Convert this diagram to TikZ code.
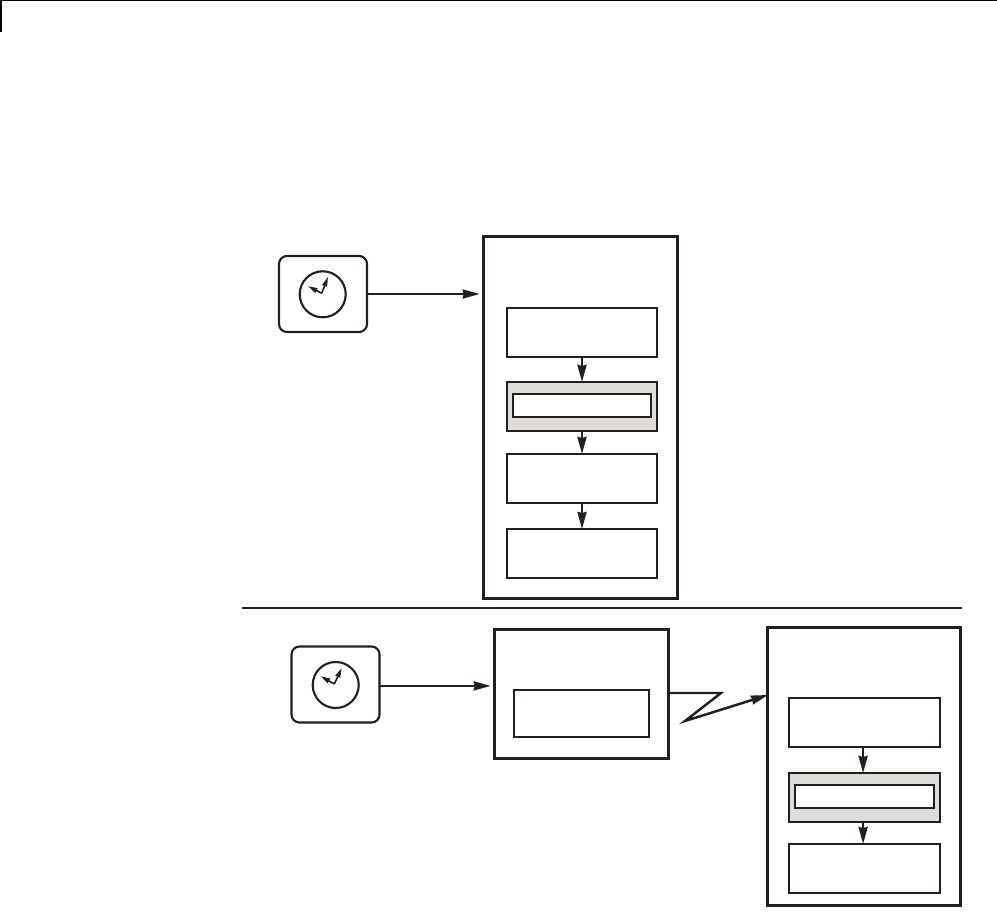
\documentclass[tikz,border=0pt]{standalone}
\usetikzlibrary{arrows.meta}
\definecolor{inkdark}{HTML}{231F20}
\definecolor{bandgray}{HTML}{DEDDD9}
\tikzset{
	framebox/.style={draw=inkdark,line width=.85pt,outer sep=0pt,inner sep=0pt},
	stepbox/.style={draw=inkdark,line width=.6pt,outer sep=0pt,inner sep=0pt,fill=white},
	bandbox/.style={stepbox,fill=bandgray},
	clockbox/.style={draw=inkdark,line width=.6pt,outer sep=0pt,inner sep=0pt,rounded corners=.8mm,minimum width=.88cm,minimum height=.76cm},
	clockface/.style={draw=inkdark,line width=.6pt,outer sep=0pt,inner sep=0pt,circle,minimum size=.46cm},
	flow/.style={draw=inkdark,line width=.7pt,-{Stealth[length=1.7mm,width=.9mm,inset=.1mm]}},
	hand/.style={draw=inkdark,line width=.45pt,-{Stealth[length=.95mm,width=.5mm,inset=0mm]}}
}
\begin{document}
\begin{tikzpicture}[x=.01cm,y=-.01cm]
	\useasboundingbox (0,0) rectangle (997,916);
	% page corner
	\coordinate (cornerTop) at (997,.5);
	\coordinate (cornerL) at (1,.5);
	\coordinate (cornerB) at (1,32);
	\draw[line width=.5pt,black] (cornerTop) -- (cornerL) -- (cornerB);
	% upper case
	\node[framebox,minimum width=1.93cm,minimum height=3.61cm] (hostA) at (580.5,417.5) {};
	\node[stepbox,minimum width=1.50cm,minimum height=.49cm] (topA) at (582,332.5) {};
	\node[bandbox,minimum width=1.50cm,minimum height=.49cm] (bandA) at (582,406.5) {};
	\node[stepbox,minimum width=1.38cm,minimum height=.23cm] (slotA) at (582,405.5) {};
	\node[stepbox,minimum width=1.50cm,minimum height=.49cm] (midA) at (582,478.5) {};
	\node[stepbox,minimum width=1.50cm,minimum height=.49cm] (lowA) at (582,553.5) {};
	\draw[flow] (topA) -- (bandA);
	\draw[flow] (bandA) -- (midA);
	\draw[flow] (midA) -- (lowA);
	\node[clockbox] (clockA) at (323,294) {};
	\node[clockface] (faceA) at (322.7,294.3) {};
	\coordinate (pivotA) at (321.7,293.3);
	\coordinate (longA) at (328,277);
	\coordinate (shortA) at (308,286.2);
	\draw[hand] (pivotA) -- (longA);
	\draw[hand] (pivotA) -- (shortA);
	\draw[flow,shorten >=1.2pt] (clockA.east) -- (clockA.east -| hostA.west);
	% divider
	\coordinate (ruleL) at (242,608);
	\coordinate (ruleR) at (962,608);
	\draw[line width=.65pt,inkdark] (ruleL) -- (ruleR);
	% lower case
	\node[framebox,minimum width=1.73cm,minimum height=1.28cm] (hostB) at (581.5,694) {};
	\node[stepbox,minimum width=1.35cm,minimum height=.47cm] (topB) at (581.5,713.5) {};
	\node[clockbox] (clockB) at (335.5,684.5) {};
	\node[clockface] (faceB) at (335.7,685) {};
	\coordinate (pivotB) at (334.3,684);
	\coordinate (longB) at (341.7,668);
	\coordinate (shortB) at (320.7,676.2);
	\draw[hand] (pivotB) -- (longB);
	\draw[hand] (pivotB) -- (shortB);
	\draw[flow,shorten >=1.2pt] ([yshift=-.4pt]clockB.east) -- ([yshift=-.4pt]clockB.east -| hostB.west);
	\node[framebox,minimum width=1.92cm,minimum height=2.77cm] (hostC) at (864,766.5) {};
	\node[stepbox,minimum width=1.51cm,minimum height=.49cm] (topC) at (864.5,722.5) {};
	\node[bandbox,minimum width=1.51cm,minimum height=.49cm] (bandC) at (864.5,797.5) {};
	\node[stepbox,minimum width=1.39cm,minimum height=.23cm] (slotC) at (864.5,796.5) {};
	\node[stepbox,minimum width=1.51cm,minimum height=.49cm] (lowC) at (864.5,868.5) {};
	\draw[flow] ([xshift=-.4pt]topC.south) -- ([xshift=-.4pt]bandC.north);
	\draw[flow] ([xshift=-.4pt]bandC.south) -- ([xshift=-.4pt]lowC.north);
	% link between hosts
	\coordinate (kneeA) at (721,693);
	\coordinate (kneeB) at (685,721);
	\coordinate (linkEnd) at (767,695);
	\draw[flow,line join=miter] (hostB.east |- kneeA) -- (kneeA) -- (kneeB) -- (hostC.west |- linkEnd);
\end{tikzpicture}
\end{document}
